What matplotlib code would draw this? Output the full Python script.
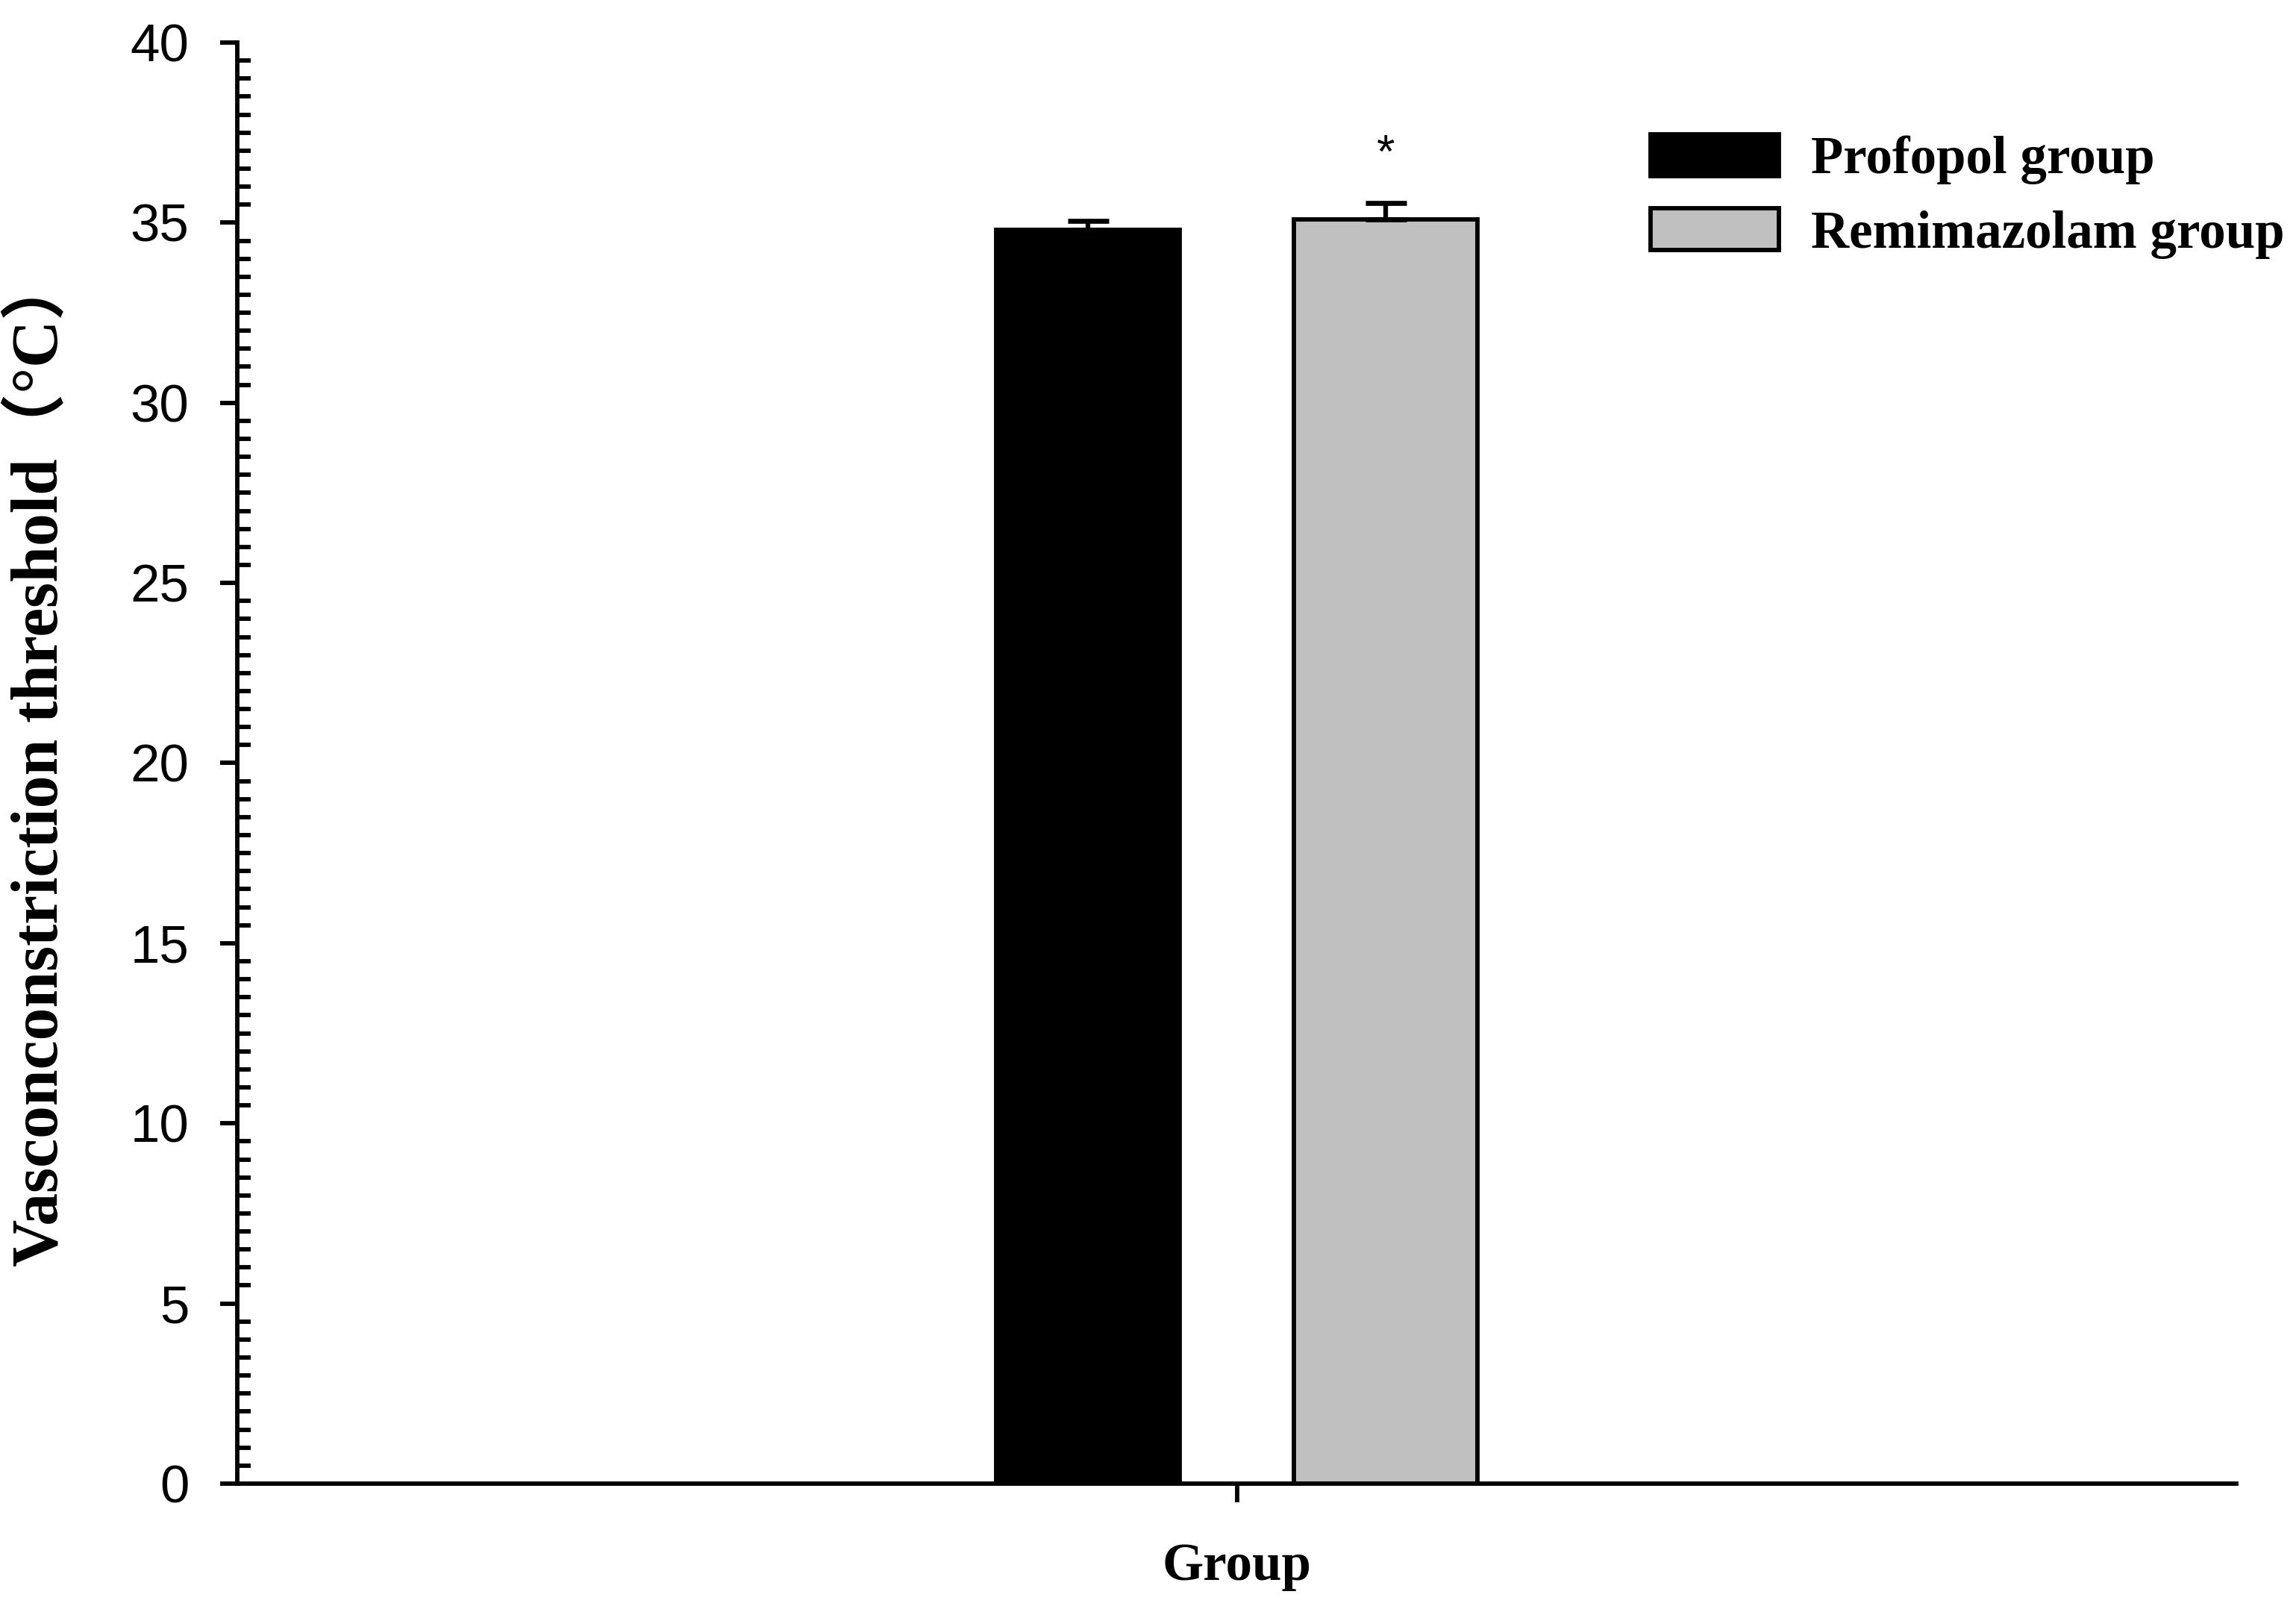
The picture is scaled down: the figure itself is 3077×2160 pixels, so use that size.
import matplotlib
matplotlib.use("Agg")
from matplotlib import pyplot as plt
from matplotlib.ticker import MultipleLocator
from matplotlib.patches import Patch

groups = ["Profopol group", "Remimazolam group"]
means = [34.8, 35.1]
errors = [0.25, 0.45]
colors = ["black", "#c0c0c0"]
offsets = [-0.149, 0.149]
sig_marks = ["", "*"]
yticks = [0, 5, 10, 15, 20, 25, 30, 35, 40]

serif = ["Liberation Serif", "Noto Sans CJK SC", "DejaVu Sans"]
sans = ["Liberation Sans", "DejaVu Sans"]

fig = plt.figure(figsize=(3077 / 300, 2160 / 300), dpi=300)
ax = fig.add_axes([318 / 3077, 1 - 1988 / 2160, (2997 - 318) / 3077, (1988 - 57) / 2160])

for i in range(len(groups)):
    ax.bar(offsets[i], means[i], width=0.184, color=colors[i], edgecolor="black",
           linewidth=1.4, zorder=2)
    ax.errorbar(offsets[i], means[i], yerr=[[0], [errors[i]]], fmt="none",
                ecolor="black", elinewidth=1.5, capsize=6.6, capthick=1.6, zorder=3)
    if sig_marks[i]:
        ax.text(offsets[i], means[i] + errors[i] + 0.72, sig_marks[i], ha="center",
                va="bottom", fontsize=15, family=sans)

ax.set_xlim(-1, 1)
ax.set_ylim(0, 40)
ax.set_xticks([0])
ax.set_xticklabels([""])
ax.set_yticks(yticks)
ax.set_yticklabels([str(t) for t in yticks], fontsize=17, family=sans)
ax.yaxis.set_minor_locator(MultipleLocator(0.5))

ax.spines["top"].set_visible(False)
ax.spines["right"].set_visible(False)
ax.spines["left"].set_linewidth(1.4)
ax.spines["bottom"].set_linewidth(1.4)
ax.tick_params(axis="y", which="major", direction="out", length=5.5, width=1.4, pad=10)
ax.tick_params(axis="y", which="minor", direction="in", length=4.3, width=1.4)
ax.tick_params(axis="x", which="major", direction="out", length=6, width=1.4)

ax.set_xlabel("Group", fontsize=17, family=serif, fontweight="bold", labelpad=9.5)
ax.set_ylabel("Vasconconstriction threshold（°C）", fontsize=21, family=serif,
              fontweight="bold", va="center")
ax.yaxis.set_label_coords(-0.0985, 0.502)

handles = [Patch(facecolor=colors[i], edgecolor="black", linewidth=1.4) for i in range(len(groups))]
leg = ax.legend(handles, groups, loc="upper left", bbox_to_anchor=(2212 / 3077, 1 - 180 / 2160),
                bbox_transform=fig.transFigure, frameon=False, borderpad=0, borderaxespad=0,
                handlelength=2.43, handleheight=0.83, handletextpad=0.6, labelspacing=0.45,
                prop={"family": serif, "weight": "bold", "size": 17})

fig.savefig("out.png", dpi=300)
